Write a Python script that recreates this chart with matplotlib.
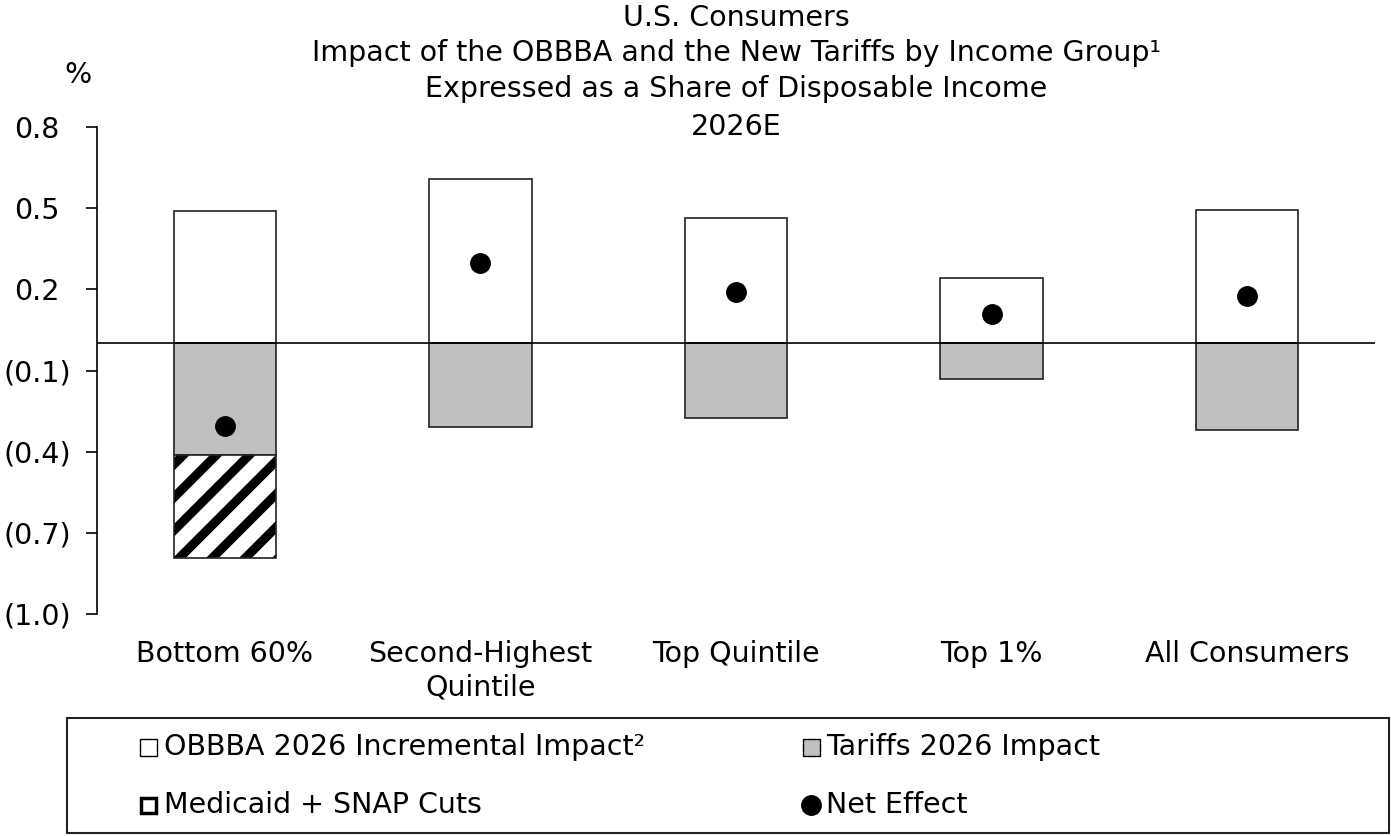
import matplotlib
matplotlib.use("Agg")
import matplotlib.pyplot as plt
from matplotlib.patches import Rectangle
from matplotlib.lines import Line2D
from matplotlib.transforms import IdentityTransform
import numpy as np

plt.rcParams['font.family'] = ['DejaVu Sans']
FS = 20.5

categories = ["Bottom 60%", "Second-Highest\nQuintile", "Top Quintile", "Top 1%", "All Consumers"]
obbba = [0.489, 0.607, 0.463, 0.241, 0.493]
tariffs = [-0.411, -0.307, -0.274, -0.133, -0.319]
medicaid = [-0.382, 0.0, 0.0, 0.0, 0.0]
net = [-0.304, 0.296, 0.190, 0.108, 0.174]
yticks = [0.8, 0.5, 0.2, -0.1, -0.4, -0.7, -1.0]
yticklabels = ["0.8", "0.5", "0.2", "(0.1)", "(0.4)", "(0.7)", "(1.0)"]
titles = ["U.S. Consumers", "Impact of the OBBBA and the New Tariffs by Income Group\u00b9",
          "Expressed as a Share of Disposable Income", "2026E"]
legend_labels = ["OBBBA 2026 Incremental Impact\u00b2", "Tariffs 2026 Impact",
                 "Medicaid + SNAP Cuts", "Net Effect"]

W, H = 1391, 836
fig = plt.figure(figsize=(W/100, H/100), dpi=100)
ax = fig.add_axes([97/W, 1-614/H, (1375-97)/W, (614-127)/H])

x = np.arange(len(categories))
w = 0.4
ax.bar(x, obbba, w, color='white', edgecolor='#222222', linewidth=1.2, zorder=2)
ax.bar(x, tariffs, w, color='#c0c0c0', edgecolor='#222222', linewidth=1.2, zorder=2)
med_x = [xi for xi, m in zip(x, medicaid) if m != 0]
med_v = [m for m in medicaid if m != 0]
med_b = [t for t, m in zip(tariffs, medicaid) if m != 0]
med_bars = ax.bar(med_x, med_v, w, bottom=med_b, color='white', edgecolor='none', zorder=2)
ax.bar(med_x, med_v, w, bottom=med_b, fill=False, edgecolor='#222222', linewidth=1.2, zorder=3)
ax.plot(x, net, 'o', color='black', markersize=14, zorder=4)
ax.axhline(0, color='black', linewidth=1.2, zorder=3)

ax.set_xlim(-0.5, 4.5)
ax.set_ylim(-1.0, 0.8)

# diagonal stripe fill for the Medicaid + SNAP segment
for bar in med_bars:
    (px0, py0), (px1, py1) = ax.transData.transform(
        [[bar.get_x(), bar.get_y()], [bar.get_x() + bar.get_width(), bar.get_y() + bar.get_height()]])
    xl, xr = min(px0, px1), max(px0, px1)
    yt = max(py0, py1)
    period = 33
    c0 = yt - (xl + 10)
    for k in range(-12, 12):
        c = c0 + k * period
        ln = Line2D([xl - 200, xr + 200], [xl - 200 + c, xr + 200 + c],
                    transform=IdentityTransform(), color='black', linewidth=6.5,
                    solid_capstyle='butt', zorder=2.5)
        ax.add_line(ln)
        ln.set_clip_path(bar)

ax.set_yticks(yticks)
ax.set_yticklabels(yticklabels, fontsize=FS)
for lab in ax.get_yticklabels():
    lab.set_horizontalalignment('center')
ax.set_xticks(x)
ax.set_xticklabels(categories, fontsize=FS, linespacing=1.25)
ax.tick_params(axis='x', length=0, pad=19)
ax.tick_params(axis='y', length=11/1.389, width=1.2, pad=(60-11)/1.389)
for s in ['top', 'right', 'bottom']:
    ax.spines[s].set_visible(False)
ax.spines['left'].set_linewidth(1.2)

cx = (97 + 1375) / 2 / W
for t, yy in zip(titles, [18, 53, 89, 127]):
    fig.text(cx, 1 - yy/H, t, ha='center', va='center', fontsize=FS)
fig.text(78/W, 1 - 75/H, "%", ha='center', va='center', fontsize=FS)

# legend box
lax = fig.add_axes([0, 0, 1, 1], facecolor='none')
lax.set_xlim(0, W)
lax.set_ylim(H, 0)
lax.axis('off')
lax.add_patch(Rectangle((67, 718), 1322, 115, fill=False, edgecolor='#222222', linewidth=1.5))
lax.add_patch(Rectangle((140, 739), 17, 17, facecolor='white', edgecolor='black', linewidth=1.0))
lax.add_patch(Rectangle((803, 739), 17, 17, facecolor='#c0c0c0', edgecolor='black', linewidth=1.0))
lax.add_patch(Rectangle((141, 798), 15, 15, facecolor='white', edgecolor='black', linewidth=2.5))
lax.plot([811], [805], 'o', color='black', markersize=14)
for lbl, (tx, ty) in zip(legend_labels, [(164, 747), (826, 747), (164, 805), (826, 805)]):
    lax.text(tx, ty, lbl, ha='left', va='center', fontsize=FS)

fig.savefig("out.png", dpi=100)
